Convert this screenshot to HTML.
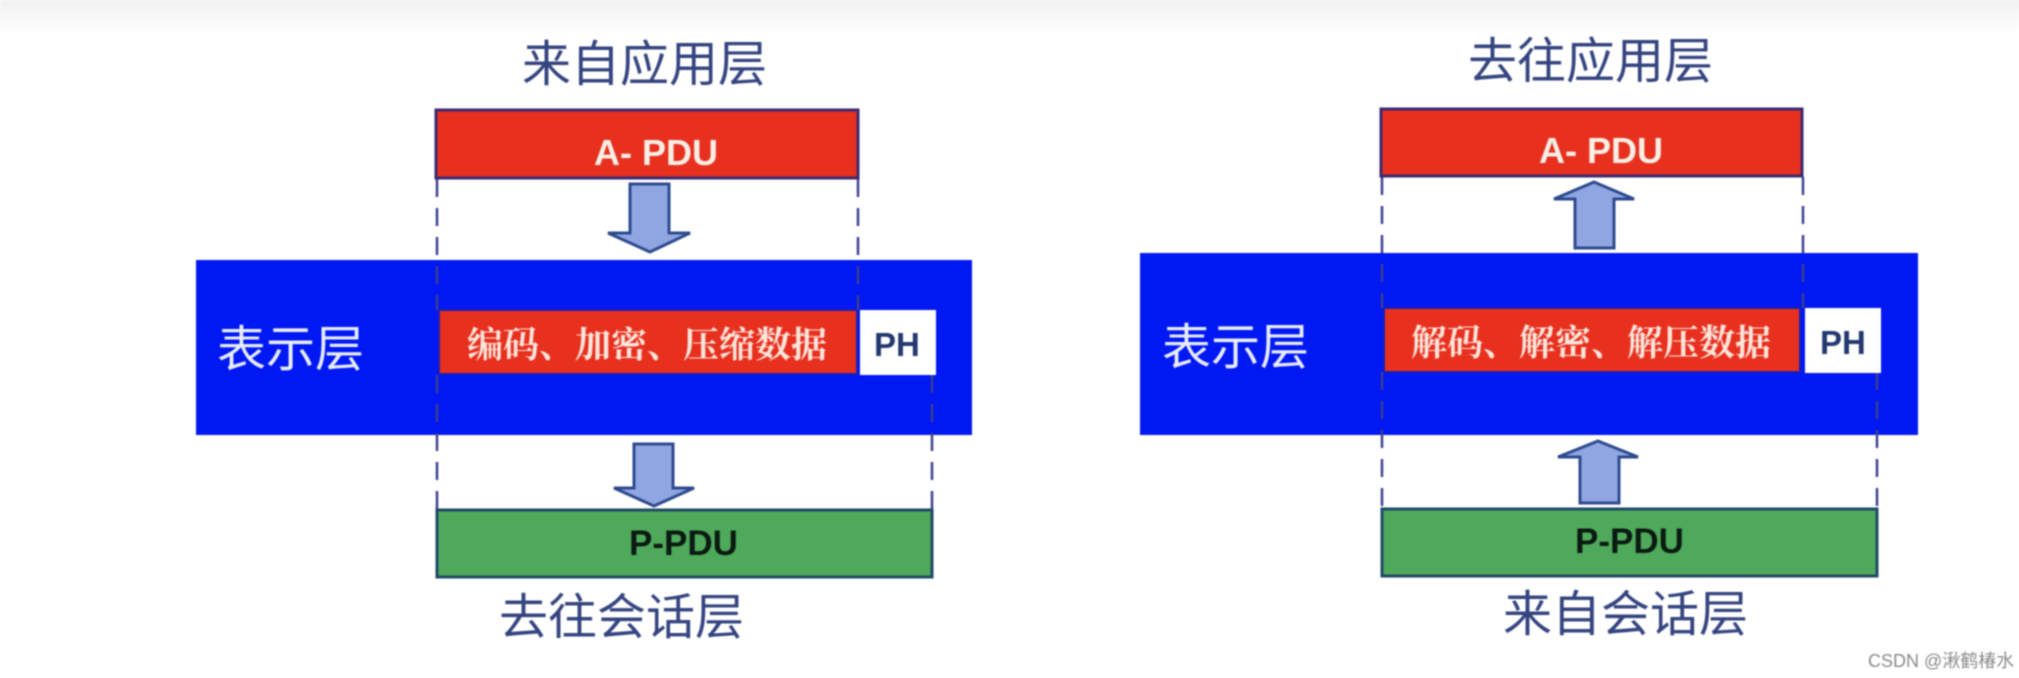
<!DOCTYPE html>
<html lang="zh"><head><meta charset="utf-8"><title>表示层</title>
<style>
html,body{margin:0;padding:0;background:#fff;width:2019px;height:678px;overflow:hidden}
svg{display:block;filter:blur(.9px)}
.t{font-family:"Liberation Sans","Noto Sans CJK SC",sans-serif;font-size:49px;fill:#34447f}
.w{font-family:"Liberation Sans","Noto Sans CJK SC",sans-serif;font-size:49px;fill:#e8ecff}
.s{font-family:"Noto Serif CJK SC","Liberation Serif",serif;font-size:36px;font-weight:700;fill:#fbe6dc}
.b{font-family:"Liberation Sans",sans-serif;font-weight:700;font-size:36px}
.d{stroke:#3b3f8f;stroke-width:2.5;stroke-dasharray:18 11;fill:none}
.a{fill:#8fa6e2;stroke:#2d4a8e;stroke-width:3;stroke-linejoin:miter}
</style></head><body>
<svg width="2019" height="678" viewBox="0 0 2019 678" xmlns="http://www.w3.org/2000/svg">
<defs><linearGradient id="g" x1="0" y1="0" x2="0" y2="1"><stop offset="0" stop-color="#f1f1f1"/><stop offset="1" stop-color="#fff"/></linearGradient></defs>
<rect width="2019" height="678" fill="#fff"/>
<rect width="2019" height="36" fill="url(#g)"/>

<!-- left -->
<rect x="196" y="260" width="776" height="175" fill="#0018f2"/>
<path class="d" d="M437 179V310M858 179V310M437 375V509M932 375V509"/>
<rect x="436" y="110" width="422" height="68" fill="#e8301f" stroke="#3a2a70" stroke-width="3"/>
<text class="b" x="594" y="165" fill="#f7efe6">A- PDU</text>
<polygon class="a" points="630,184 669,184 669,233 690,233 650,252 608,233 630,233"/>
<rect x="439" y="310" width="418" height="64" fill="#e8301f" stroke="#1f1fb0" stroke-width="2"/>
<rect x="860" y="310" width="76" height="65" fill="#fff"/>
<text class="w" x="217" y="366">表示层</text>
<text class="s" x="467" y="357">编码、加密、压缩数据</text>
<text class="b" x="874" y="356" fill="#24386f" style="font-size:33px">PH</text>
<polygon class="a" points="634,444 673,444 673,488 694,488 654,506 614,488 634,488"/>
<rect x="437" y="510" width="495" height="67" fill="#4fa95b" stroke="#1f4a66" stroke-width="3"/>
<text class="b" x="629" y="555" fill="#0a1a12" style="font-size:35px">P-PDU</text>
<text class="t" x="522" y="81">来自应用层</text>
<text class="t" x="499" y="634">去往会话层</text>

<!-- right -->
<rect x="1140" y="253" width="778" height="182" fill="#0018f2"/>
<path class="d" d="M1382 177V308M1803 177V308M1382 372V508M1877 372V508"/>
<rect x="1381" y="109" width="421" height="67" fill="#e8301f" stroke="#3a2a70" stroke-width="3"/>
<text class="b" x="1539" y="163" fill="#f7efe6">A- PDU</text>
<polygon class="a" points="1594,182 1634,199 1614,199 1614,248 1575,248 1575,199 1554,199"/>
<rect x="1384" y="308" width="416" height="64" fill="#e8301f" stroke="#1f1fb0" stroke-width="2"/>
<rect x="1805" y="308" width="76" height="65" fill="#fff"/>
<text class="w" x="1162" y="364">表示层</text>
<text class="s" x="1411" y="355">解码、解密、解压数据</text>
<text class="b" x="1820" y="354" fill="#24386f" style="font-size:33px">PH</text>
<polygon class="a" points="1598,441 1638,457 1619,457 1619,503 1580,503 1580,457 1558,457"/>
<rect x="1382" y="509" width="495" height="67" fill="#4fa95b" stroke="#1f4a66" stroke-width="3"/>
<text class="b" x="1575" y="553" fill="#0a1a12" style="font-size:35px">P-PDU</text>
<text class="t" x="1468" y="78">去往应用层</text>
<text class="t" x="1503" y="631">来自会话层</text>

<text x="1868" y="667" font-family="Liberation Sans,Noto Sans CJK SC,sans-serif" font-size="18" fill="#8a8a8a">CSDN @湫鹤椿水</text>
</svg>
</body></html>
